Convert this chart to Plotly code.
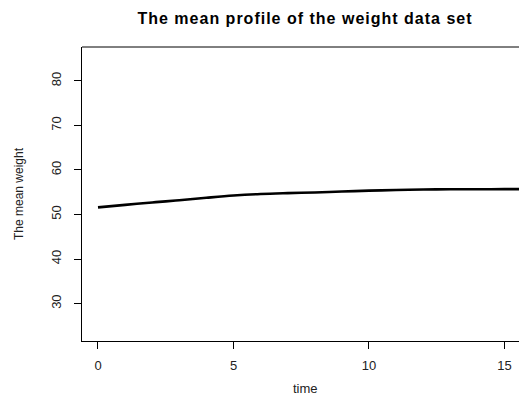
import plotly.graph_objects as go

time = [0, 1, 2, 3, 4, 5, 6, 7, 8, 9, 10, 11, 12, 13, 14, 15, 16]
mean_weight = [51.6, 52.15, 52.7, 53.2, 53.75, 54.25, 54.6, 54.8, 54.95, 55.15,
               55.35, 55.5, 55.6, 55.65, 55.65, 55.7, 55.7]
x_ticks = [0, 5, 10, 15]
y_ticks = [30, 40, 50, 60, 70, 80]

W, H = 519, 399
L, T, B = 82, 47, 58
pw = W - L

fig = go.Figure()
fig.add_trace(go.Scatter(x=time, y=mean_weight, mode="lines",
                         line=dict(color="black", width=2.6, shape="spline"),
                         showlegend=False, hoverinfo="skip"))

font = "Liberation Sans, Arial, sans-serif"
fig.update_layout(
    width=W, height=H,
    margin=dict(l=L, r=0, t=T, b=B),
    paper_bgcolor="white", plot_bgcolor="white",
    title=dict(text="<b>The mean profile of the weight data set</b>",
               xref="container", x=305 / W, xanchor="center",
               yref="container", y=1 - 18.5 / H, yanchor="middle",
               font=dict(family=font, size=16, color="black")),
    xaxis=dict(range=[-0.59, -0.59 + pw / 27.1], tickvals=x_ticks,
               showgrid=False, zeroline=False, showline=True, linecolor="black",
               linewidth=1, ticks="outside", ticklen=7, tickcolor="black",
               tickfont=dict(family=font, size=13, color="#222"),
               ticklabelstandoff=5),
    yaxis=dict(range=[21.6, 87.6], tickvals=y_ticks,
               showgrid=False, zeroline=False, showline=True, linecolor="black",
               linewidth=1, ticks="outside", ticklen=7, tickcolor="black",
               tickangle=-90,
               tickfont=dict(family=font, size=13, color="#222"),
               ticklabelstandoff=8),
    shapes=[dict(type="line", xref="paper", yref="paper", x0=0, x1=1.2, y0=1, y1=1,
                 line=dict(color="black", width=1))],
    annotations=[
        dict(text="time", xref="paper", yref="paper",
             x=(305 - L) / pw, y=-(388 - (H - B)) / (H - T - B),
             xanchor="center", yanchor="middle", showarrow=False,
             font=dict(family=font, size=13, color="#222")),
        dict(text="The mean weight", xref="paper", yref="paper",
             x=(19 - L) / pw, y=0.5, textangle=-90,
             xanchor="center", yanchor="middle", showarrow=False,
             font=dict(family=font, size=12, color="#222")),
    ],
)

post = (
    "document.body.style.margin='0';document.body.style.overflow='hidden';"
    "document.querySelectorAll('.gtitle').forEach(function(t){t.style.letterSpacing='1px';});"
)
fig.write_html("out.html", config={"displayModeBar": False}, post_script=post)
